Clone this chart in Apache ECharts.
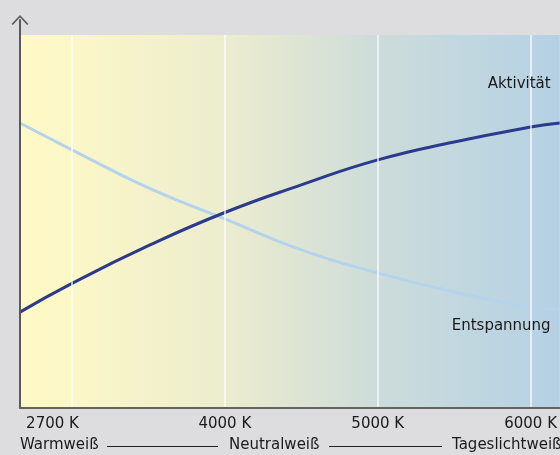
<!DOCTYPE html>
<html>
<head>
<meta charset="utf-8">
<script src="https://cdn.jsdelivr.net/npm/echarts@6/dist/echarts.min.js"></script>
<style>
  html, body { margin: 0; padding: 0; background: #dddddf; }
  #main { width: 560px; height: 455px; }
</style>
</head>
<body>
<div id="main"></div>
<script>
// Farbtemperatur in Kelvin (x) und relative Wirkung (y)
var kelvin = [2660, 3000, 3500, 4000, 4500, 5000, 5500, 6000, 6190];
var aktivitaet = [25.7, 33.4, 43.5, 52.4, 59.8, 66.5, 71.3, 75.3, 76.4];
var entspannung = [76.4, 69.2, 59.0, 50.7, 42.4, 36.2, 31.1, 27.1, 26.5];
var tickValues = [2700, 4000, 5000, 6000];
var gridLines = [3000, 4000, 5000, 6000];
var zoneNames = ['Warmweiß', 'Neutralweiß', 'Tageslichtweiß'];
var seriesNames = ['Aktivität', 'Entspannung'];

var font = 'DejaVu Sans';

function pairs(ys) {
    return kelvin.map(function(k, i) { return [k, ys[i]]; });
}

var myChart = echarts.init(document.getElementById('main'));

var bgGradient = new echarts.graphic.LinearGradient(0, 0, 1, 0, [
    { offset: 0, color: '#fff9c6' },
    { offset: 0.09, color: '#fcf7c7' },
    { offset: 0.38, color: '#ecedcf' },
    { offset: 0.52, color: '#dde4d4' },
    { offset: 0.66, color: '#cddcda' },
    { offset: 0.82, color: '#c1d7df' },
    { offset: 0.95, color: '#b9d3e3' },
    { offset: 1, color: '#b4d0e3' }
]);

var option = {
    backgroundColor: '#dddddf',
    animation: false,
    grid: {
        left: 20,
        right: 0,
        top: 20,
        bottom: 47
    },
    xAxis: {
        type: 'value',
        min: 2660,
        max: 6190,
        z: 10,
        axisLine: {
            lineStyle: { color: '#64645e', width: 2 }
        },
        axisTick: { show: false },
        splitLine: { show: false },
        axisLabel: {
            customValues: tickValues,
            alignMinLabel: 'left',
            margin: 9,
            color: '#1a1a1a',
            fontFamily: font,
            fontSize: 15,
            formatter: function(v) { return v + ' K'; }
        }
    },
    yAxis: {
        type: 'value',
        min: 0,
        max: 104,
        z: 10,
        axisLine: {
            show: true,
            symbol: ['none', 'path://M0,9 L8.5,0 L17,9 L15.6,10 L8.5,2.2 L1.4,10 Z'],
            symbolSize: [17, 10],
            lineStyle: { color: '#5a5a56', width: 2 }
        },
        axisTick: { show: false },
        axisLabel: { show: false },
        splitLine: { show: false }
    },
    series: [{
        name: seriesNames[1],
        type: 'line',
        data: pairs(entspannung),
        smooth: true,
        symbol: 'none',
        z: 3,
        lineStyle: { color: '#b5d3ec', width: 3 },
        markArea: {
            silent: true,
            itemStyle: { color: bgGradient },
            data: [[{ coord: [2660, 0] }, { coord: [6190, 100] }]]
        },
        markLine: {
            silent: true,
            symbol: 'none',
            label: { show: false },
            lineStyle: { color: '#ffffff', width: 1.5, type: 'solid', opacity: 0.85 },
            data: gridLines.map(function(k) {
                return [{ coord: [k, 0] }, { coord: [k, 100] }];
            })
        },
        markPoint: {
            silent: true,
            symbolSize: 0,
            label: {
                position: 'inside',
                align: 'right',
                verticalAlign: 'middle',
                color: '#1a1a1a',
                fontFamily: font,
                fontSize: 15,
                formatter: seriesNames[1]
            },
            data: [{ coord: [6131, 22.0] }]
        }
    }, {
        name: seriesNames[0],
        type: 'line',
        data: pairs(aktivitaet),
        smooth: true,
        symbol: 'none',
        z: 4,
        lineStyle: { color: '#2b3a8c', width: 3 },
        markPoint: {
            silent: true,
            symbolSize: 0,
            label: {
                position: 'inside',
                align: 'right',
                verticalAlign: 'middle',
                color: '#1a1a1a',
                fontFamily: font,
                fontSize: 15,
                formatter: seriesNames[0]
            },
            data: [{ coord: [6131, 86.9] }]
        }
    }],
    graphic: [
        { type: 'text', left: 20, top: 438, style: { text: zoneNames[0], fill: '#1a1a1a', font: '15px "DejaVu Sans"' } },
        { type: 'line', shape: { x1: 107, y1: 446.5, x2: 218, y2: 446.5 }, style: { stroke: '#222222', lineWidth: 1 } },
        { type: 'text', left: 229, top: 438, style: { text: zoneNames[1], fill: '#1a1a1a', font: '15px "DejaVu Sans"' } },
        { type: 'line', shape: { x1: 329, y1: 446.5, x2: 442, y2: 446.5 }, style: { stroke: '#222222', lineWidth: 1 } },
        { type: 'text', left: 452, top: 438, style: { text: zoneNames[2], fill: '#1a1a1a', font: '15px "DejaVu Sans"' } }
    ]
};

myChart.setOption(option);
</script>
</body>
</html>
